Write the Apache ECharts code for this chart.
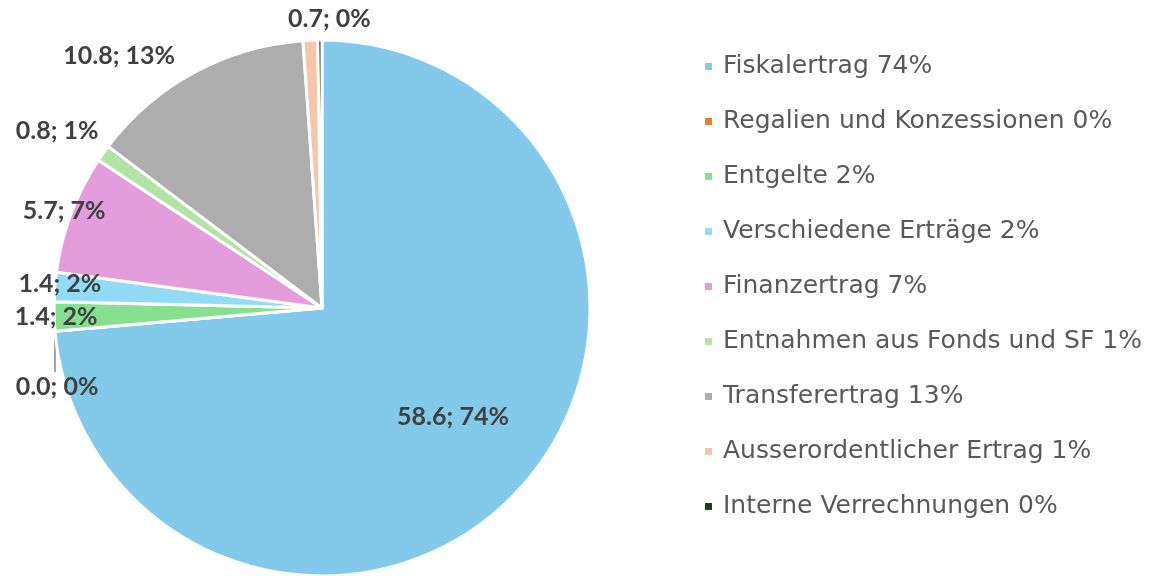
<!DOCTYPE html>
<html>
<head>
<meta charset="utf-8">
<script src="https://cdn.jsdelivr.net/npm/echarts@6/dist/echarts.min.js"></script>
<style>
  html, body { margin: 0; padding: 0; background: #fff; }
  #main { width: 1162px; height: 576px; }
</style>
</head>
<body>
<div id="main"></div>
<script>
// Ertragsarten (Mio.), Werte
var categories = [
  'Fiskalertrag',
  'Regalien und Konzessionen',
  'Entgelte',
  'Verschiedene Erträge',
  'Finanzertrag',
  'Entnahmen aus Fonds und SF',
  'Transferertrag',
  'Ausserordentlicher Ertrag',
  'Interne Verrechnungen'
];
var values = [58.6, 0.0, 1.4, 1.4, 5.7, 0.8, 10.8, 0.7, 0.2];
// Prozentangaben wie in der Legende
var legendPct = ['74%', '0%', '2%', '2%', '7%', '1%', '13%', '1%', '0%'];
// Prozentangaben wie in den Datenbeschriftungen
var labelPct = ['74%', '0%', '2%', '2%', '7%', '1%', '13%', '0%', '0%'];
var colors = ['#82c9ea', '#ed7d31', '#86e08f', '#93daf6', '#e39ddd', '#b2e5a5', '#adadad', '#f6c5aa', '#0e4a1c'];

// label nudges (px) relative to the slice edge / centre
var labelShift = {
  0: [30, 16],
  1: [7, 56],
  2: [7, 0],
  3: [10, -3],
  4: [-2, -3],
  5: [-41, -22],
  6: [-70, -17],
  7: [24, -21]
};

var myChart = echarts.init(document.getElementById('main'));

var data = categories.map(function (name, i) {
  var item = { name: name, value: values[i], itemStyle: { color: colors[i] } };
  if (i === 0) {
    item.label = { position: 'inside' };
  }
  if (i === 1) {
    item.labelLine = { show: true, length: 0, length2: 0, lineStyle: { color: '#a6a6a6', width: 2 } };
  }
  if (i === 8) {
    item.label = { show: false };
  }
  return item;
});

var option = {
  animation: false,
  legend: {
    orient: 'vertical',
    left: 698,
    top: 49,
    icon: 'rect',
    itemWidth: 9,
    itemHeight: 9,
    itemGap: 30,
    textStyle: {
      fontFamily: 'DejaVu Sans',
      fontSize: 25,
      lineHeight: 25,
      color: '#595959',
      padding: [0, 0, 0, 5]
    },
    formatter: function (name) {
      return name + ' ' + legendPct[categories.indexOf(name)];
    },
    data: categories
  },
  series: [
    {
      type: 'pie',
      center: [322, 308],
      radius: 268,
      startAngle: 90,
      clockwise: true,
      avoidLabelOverlap: false,
      minShowLabelAngle: 0,
      itemStyle: { borderColor: '#fff', borderWidth: 3 },
      label: {
        show: true,
        position: 'outside',
        alignTo: 'none',
        fontFamily: 'Lato',
        fontWeight: 'bold',
        fontSize: 25,
        color: '#404040',
        formatter: function (p) {
          return values[p.dataIndex].toFixed(1) + '; ' + labelPct[p.dataIndex];
        }
      },
      labelLine: { show: false, length: 0, length2: 0 },
      labelLayout: function (p) {
        var s = labelShift[p.dataIndex] || [0, 0];
        var res = { dx: s[0], dy: s[1], align: 'center', verticalAlign: 'middle' };
        if (p.dataIndex === 1) {
          var r = p.labelRect;
          var pt = (p.labelLinePoints && p.labelLinePoints[0]) || [r.x + r.width, r.y + r.height / 2];
          res.labelLinePoints = [[pt[0], pt[1] - 8], [pt[0], pt[1] + s[1] - 15]];
        }
        return res;
      },
      emphasis: { disabled: true },
      data: data
    }
  ]
};

myChart.setOption(option);
</script>
</body>
</html>
